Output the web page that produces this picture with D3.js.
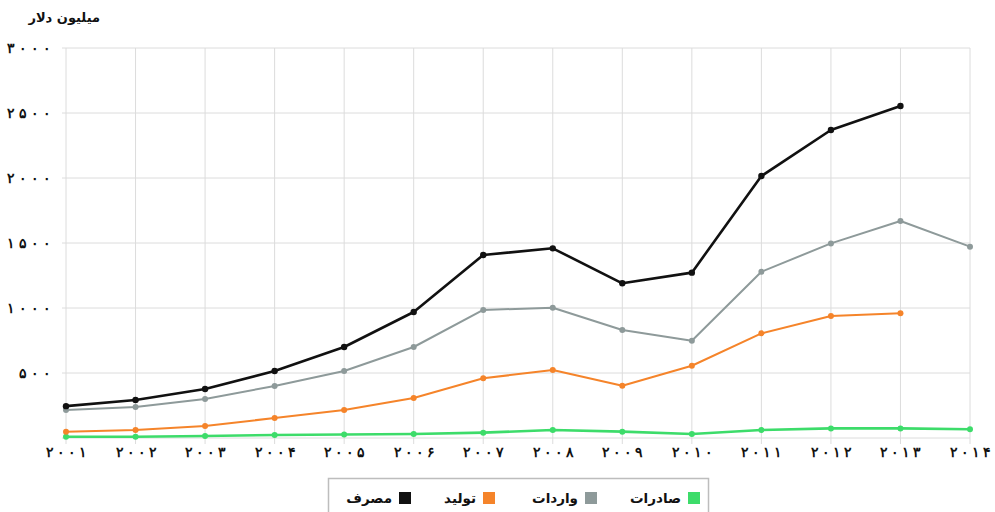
<!DOCTYPE html>
<html>
<head>
<meta charset="utf-8">
<script src="https://cdn.jsdelivr.net/npm/d3@7"></script>
<style>
  html, body { margin: 0; padding: 0; background: #fff; }
  svg { display: block; font-family: "DejaVu Sans", sans-serif; }
</style>
</head>
<body>
<svg id="chart" width="995" height="512"></svg>
<script>
// Years and values (million dollars)
const years = [2001, 2002, 2003, 2004, 2005, 2006, 2007, 2008, 2009, 2010, 2011, 2012, 2013, 2014];
const consumption = [245, 292, 377, 515, 700, 969, 1408, 1459, 1190, 1272, 2015, 2369, 2554, null];
const imports     = [215, 238, 300, 400, 515, 700, 985, 1002, 831, 748, 1279, 1497, 1669, 1472];
const production  = [48, 62, 92, 154, 215, 308, 459, 523, 402, 556, 805, 938, 959, null];
const exportsVals = [10, 10, 15, 23, 27, 31, 41, 62, 49, 31, 62, 74, 74, 67];
const yTicks = [500, 1000, 1500, 2000, 2500, 3000];
const unitLabel = "میلیون دلار";

const seriesList = [
  { name: "مصرف",   values: consumption, color: "#111111", width: 2.6, r: 3.2 },
  { name: "واردات", values: imports,     color: "#8e9a9a", width: 2,   r: 3 },
  { name: "تولید",  values: production,  color: "#f5842a", width: 2,   r: 3 },
  { name: "صادرات", values: exportsVals, color: "#3ddc6a", width: 2.6, r: 3 }
];
// Legend reads from right to left
const legendOrder = ["صادرات", "واردات", "تولید", "مصرف"];

const faDigits = "۰۱۲۳۴۵۶۷۸۹";
const toFa = n => String(n).replace(/\d/g, d => faDigits[d]);
// per-glyph spacing list for dx, widening the digit runs
const spread = (str, gap) => Array.from(str).map((c, i) => (i === 0 ? 0 : gap)).join(" ");

const svg = d3.select("#chart");
const margin = { left: 66, right: 25, top: 48, bottom: 74 };
const W = 995, H = 512;

const x = d3.scalePoint().domain(years).range([margin.left, W - margin.right]);
const y = d3.scaleLinear().domain([0, 3000]).range([H - margin.bottom, margin.top]);

// grid
const grid = svg.append("g").attr("stroke", "#dcdcdc").attr("stroke-width", 1);
grid.selectAll("line.v").data(years).join("line")
  .attr("x1", d => x(d)).attr("x2", d => x(d))
  .attr("y1", y(3000)).attr("y2", y(0) + 6);
grid.selectAll("line.h").data([0].concat(yTicks)).join("line")
  .attr("x1", margin.left - 4).attr("x2", x(2014))
  .attr("y1", d => y(d)).attr("y2", d => y(d));

// y axis labels
const yAxis = d3.axisLeft(y).tickValues(yTicks).tickSize(0).tickPadding(15).tickFormat(toFa);
const gy = svg.append("g").attr("transform", `translate(${margin.left},0)`).call(yAxis);
gy.select(".domain").remove();
gy.selectAll("text").attr("font-size", 14).attr("font-weight", "bold").attr("fill", "#111")
  .attr("dx", function () { return spread(this.textContent, 4); });

// x axis labels
const xAxis = d3.axisBottom(x).tickSize(0).tickPadding(9).tickFormat(toFa);
const gx = svg.append("g").attr("transform", `translate(0,${y(0)})`).call(xAxis);
gx.select(".domain").remove();
gx.selectAll("text").attr("font-size", 14).attr("font-weight", "bold").attr("fill", "#111")
  .attr("dx", function () { return spread(this.textContent, 3); });

// unit label
svg.append("text").attr("x", 100).attr("y", 22).attr("text-anchor", "end")
  .attr("font-size", 13).attr("font-weight", "bold").attr("fill", "#111").text(unitLabel);

// lines, drawn bottom-most first
const line = d3.line().defined(d => d.v != null).x(d => x(d.year)).y(d => y(d.v));
[...seriesList].reverse().forEach(s => {
  const pts = years.map((yr, i) => ({ year: yr, v: s.values[i] }));
  svg.append("path").datum(pts)
    .attr("fill", "none").attr("stroke", s.color).attr("stroke-width", s.width)
    .attr("stroke-linejoin", "round").attr("d", line);
  svg.append("g").selectAll("circle").data(pts.filter(d => d.v != null)).join("circle")
    .attr("cx", d => x(d.year)).attr("cy", d => y(d.v)).attr("r", s.r).attr("fill", s.color);
});

// legend
const lg = svg.append("g");
lg.append("rect").attr("x", 328.5).attr("y", 478.5).attr("width", 380).attr("height", 40)
  .attr("fill", "#fff").attr("stroke", "#bdbdbd").attr("stroke-width", 1.5);
const legendRight = [700, 597, 495, 411];
legendOrder.forEach((name, i) => {
  const s = seriesList.find(d => d.name === name);
  const rx = legendRight[i];
  lg.append("rect").attr("x", rx - 12).attr("y", 492).attr("width", 12).attr("height", 12).attr("fill", s.color);
  lg.append("text").attr("x", rx - 19).attr("y", 503).attr("text-anchor", "end")
    .attr("font-size", 13.5).attr("font-weight", "bold").attr("fill", "#111").text(name);
});
</script>
</body>
</html>
